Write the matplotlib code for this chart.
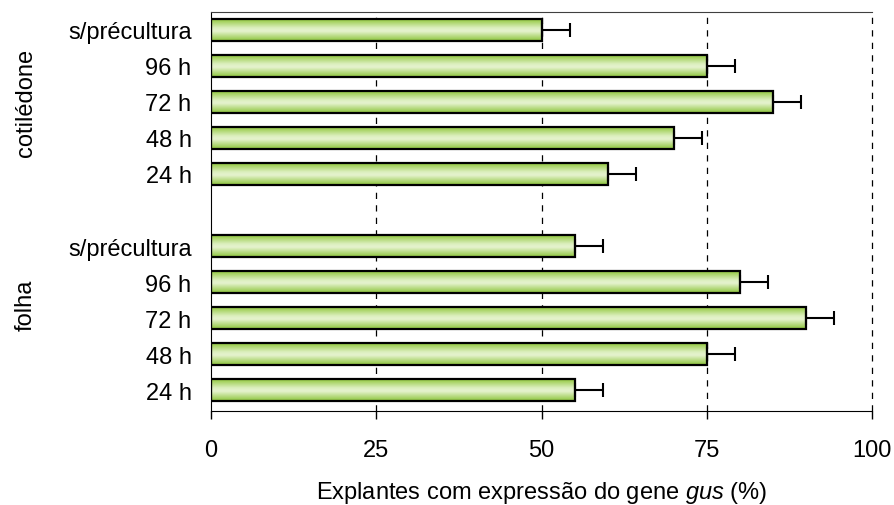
import numpy as np
import matplotlib
matplotlib.use('Agg')
from matplotlib import pyplot as plt
from matplotlib.colors import LinearSegmentedColormap

plt.rcParams['font.family'] = ['Liberation Sans', 'DejaVu Sans']
plt.rcParams['mathtext.fontset'] = 'custom'
plt.rcParams['mathtext.rm'] = 'Liberation Sans'
plt.rcParams['mathtext.it'] = 'Liberation Sans:italic'

# dados
cat_labels = ['24 h', '48 h', '72 h', '96 h', 's/précultura']
folha_vals = [55, 75, 90, 80, 55]
folha_err = [4.3, 4.3, 4.3, 4.3, 4.3]
cotiledone_vals = [60, 70, 85, 75, 50]
cotiledone_err = [4.3, 4.3, 4.3, 4.3, 4.3]
xticks = [0, 25, 50, 75, 100]

fs = 17
W, H = 895, 506
fig = plt.figure(figsize=(W / 100, H / 100), dpi=100)
ax = fig.add_axes([211 / W, 1 - 412 / H, (872 - 211) / W, (412 - 12.5) / H])

pos_folha = np.arange(5)
pos_cot = np.arange(5) + 6
positions = np.concatenate([pos_folha, pos_cot])
values = folha_vals + cotiledone_vals
errors = folha_err + cotiledone_err
bar_h = 0.6

# gradiente verde das barras
cmap = LinearSegmentedColormap.from_list('verde', [
    (0.0, '#8cc43a'), (0.45, '#e6f3cf'), (0.6, '#dcefbf'), (1.0, '#92c83e')])
grad = np.linspace(0, 1, 100).reshape(-1, 1)

for y, v in zip(positions, values):
    ax.imshow(grad, extent=[0, v, y + bar_h / 2, y - bar_h / 2], cmap=cmap,
              aspect='auto', interpolation='bicubic', zorder=2)
ax.barh(positions, values, height=bar_h, facecolor='none', edgecolor='black',
        linewidth=1.6, zorder=3)
ax.errorbar(values, positions, xerr=[np.zeros(len(errors)), errors], fmt='none',
            ecolor='black', elinewidth=1.5, capsize=4.7, capthick=1.5, zorder=4)

ax.set_xlim(0, 100)
ax.set_ylim(-0.58, 10.51)
ax.set_xticks(xticks)
ax.set_xticklabels([str(t) for t in xticks])
ax.set_yticks(positions)
ax.set_yticklabels(cat_labels + cat_labels)
ax.tick_params(axis='y', length=0, pad=14, labelsize=fs)
ax.tick_params(axis='x', length=6, width=1, pad=14, labelsize=fs, direction='out')

for x in xticks[1:]:
    ax.axvline(x, color='black', linestyle=(0, (5, 5)), linewidth=0.9, zorder=1, clip_on=False)

ax.spines['right'].set_visible(False)
ax.spines['top'].set_color('#404040')
ax.spines['left'].set_color('black')
ax.spines['bottom'].set_color('black')

ax.set_xlabel(r'Explantes com expressão do gene $\it{gus}$ (%)', fontsize=fs, labelpad=13)

fig.text(26 / W, 1 - 103 / H, 'cotilédone', rotation=90, ha='center', va='center', fontsize=fs)
fig.text(26 / W, 1 - 305 / H, 'folha', rotation=90, ha='center', va='center', fontsize=fs)

fig.savefig('out.png', dpi=100)
